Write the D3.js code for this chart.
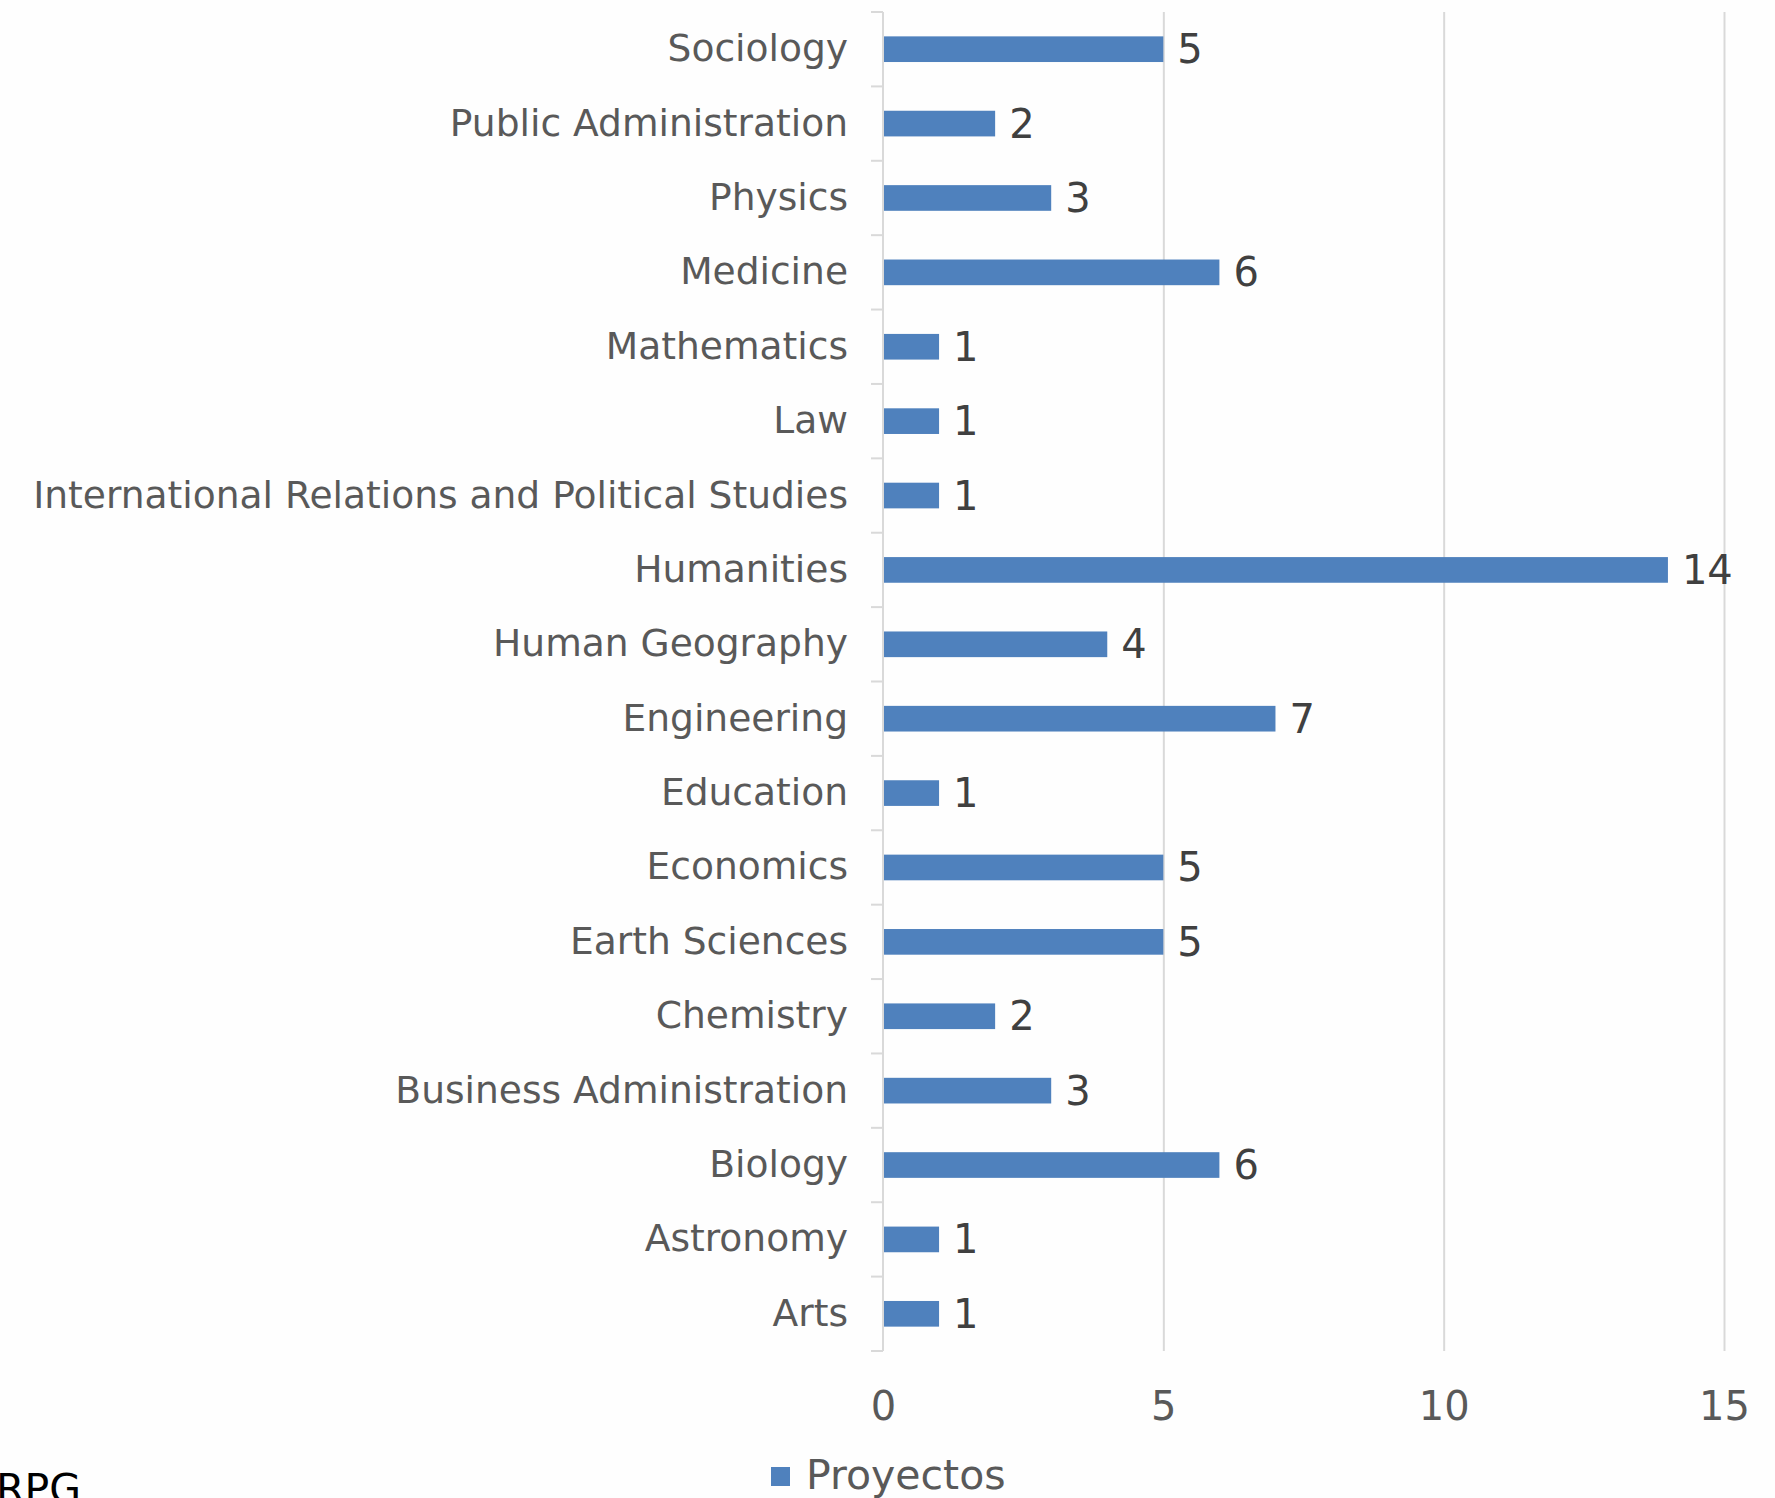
<!DOCTYPE html>
<html><head><meta charset="utf-8">
<script src="https://cdn.jsdelivr.net/npm/d3@7"></script>
<style>body{margin:0;background:#fefefe;} svg{display:block;}</style>
</head><body><svg id="c" width="1775" height="1498"></svg>
<script>
const categories = ["Sociology","Public Administration","Physics","Medicine","Mathematics","Law","International Relations and Political Studies","Humanities","Human Geography","Engineering","Education","Economics","Earth Sciences","Chemistry","Business Administration","Biology","Astronomy","Arts"];
const values = [5,2,3,6,1,1,1,14,4,7,1,5,5,2,3,6,1,1];
const xTicks = [0,5,10,15];
const seriesName = "Proyectos";
const sourceNote = "RPG";

const FONT = "'DejaVu Sans', sans-serif";
const W = 1775, H = 1498;
const svg = d3.select("#c");
svg.append("rect").attr("width", W).attr("height", H).attr("fill", "#fefefe");

const x0 = 883, x1 = 1724, yTop = 12, yBot = 1351;
const x = d3.scaleLinear().domain([0, 15]).range([x0, x1]);
const y = d3.scaleBand().domain(categories).range([yTop, yBot]).paddingInner(0.655).paddingOuter(0.3275);

// gridlines
const gx = svg.append("g").attr("transform", `translate(0,${yBot})`)
  .call(d3.axisBottom(x).tickValues(xTicks).tickSize(-(yBot - yTop)).tickFormat(""));
gx.select(".domain").remove();
gx.selectAll(".tick").filter(d => d === 0).remove();
gx.selectAll("line").attr("stroke", "#d9d9d9").attr("stroke-width", 2);

// bars
svg.append("g").selectAll("rect").data(categories).join("rect")
  .attr("x", x(0))
  .attr("y", d => y(d))
  .attr("width", (d, i) => x(values[i]) - x(0))
  .attr("height", y.bandwidth())
  .attr("fill", "#4f81bd");

// category axis line + boundary ticks
svg.append("line").attr("x1", x0).attr("x2", x0).attr("y1", yTop).attr("y2", yBot)
  .attr("stroke", "#d9d9d9").attr("stroke-width", 2);
svg.append("g").selectAll("line").data(d3.range(categories.length + 1)).join("line")
  .attr("x1", x0 - 12).attr("x2", x0)
  .attr("y1", i => yTop + i * y.step()).attr("y2", i => yTop + i * y.step())
  .attr("stroke", "#d9d9d9").attr("stroke-width", 2);

// category labels
const gy = svg.append("g").attr("transform", `translate(${x0},0)`)
  .call(d3.axisLeft(y).tickSize(0).tickPadding(35));
gy.select(".domain").remove();
gy.attr("font-family", FONT).attr("font-size", 37.6);
gy.selectAll("text").attr("dy", null).attr("y", 12).attr("fill", "#595959");

// value axis labels
const gl = svg.append("g").attr("transform", `translate(0,1420)`)
  .call(d3.axisBottom(x).tickValues(xTicks).tickSize(0).tickPadding(0));
gl.select(".domain").remove();
gl.attr("font-family", FONT).attr("font-size", 40);
gl.selectAll("text").attr("y", 0).attr("dy", null).attr("fill", "#595959");

// data labels
svg.append("g").selectAll("text").data(categories).join("text")
  .attr("x", (d, i) => x(values[i]) + 14)
  .attr("y", d => y(d) + y.bandwidth() / 2 + 14)
  .attr("font-family", FONT).attr("font-size", 40).attr("fill", "#404040")
  .text((d, i) => values[i]);

// legend
svg.append("rect").attr("x", 771).attr("y", 1467).attr("width", 19).attr("height", 19).attr("fill", "#4f81bd");
svg.append("text").attr("x", 806).attr("y", 1489).attr("font-family", FONT).attr("font-size", 41)
  .attr("fill", "#595959").text(seriesName);

// source note (partially cut off at the bottom, as in the reference)
svg.append("text").attr("x", 81).attr("y", 1503).attr("text-anchor", "end")
  .attr("font-family", FONT).attr("font-size", 41).attr("fill", "#000").text(sourceNote);
</script></body></html>
